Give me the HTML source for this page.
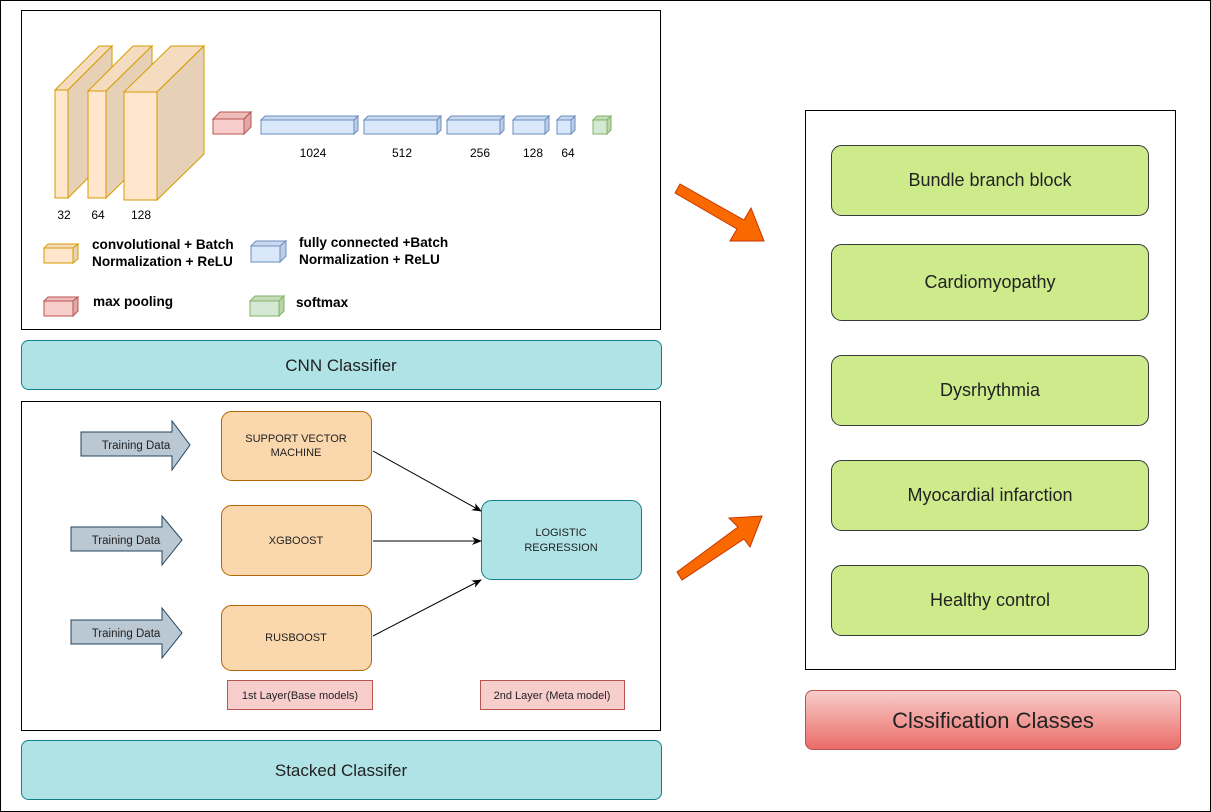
<!DOCTYPE html>
<html><head><meta charset="utf-8"><style>
body{margin:0;background:#fff}
svg{display:block;font-family:"Liberation Sans",Arial,sans-serif}
</style></head><body>
<svg width="1211" height="812" viewBox="0 0 1211 812" xmlns="http://www.w3.org/2000/svg">
<defs>
<linearGradient id="rg" x1="0" y1="0" x2="0" y2="1"><stop offset="0" stop-color="#f8cecc"/><stop offset="1" stop-color="#ea6b66"/></linearGradient>
<marker id="ah" markerWidth="10" markerHeight="10" refX="9" refY="5" orient="auto" markerUnits="userSpaceOnUse"><path d="M0,1 L10,5 L0,9 L3,5 z" fill="#000"/></marker>
</defs>
<rect x="0.5" y="0.5" width="1210" height="811" fill="#fff" stroke="#000"/>
<rect x="21.5" y="10.5" width="639" height="319" fill="#fff" stroke="#000"/>
<g stroke="#d79b00" stroke-width="1">
<polygon points="55,90 99,46 112,46 68,90" fill="#f4dcc0"/><polygon points="68,90 112,46 112,154 68,198" fill="#e6d0b6"/><rect x="55" y="90" width="13" height="108" fill="#ffe6cc"/>
<polygon points="88,91 133,46 152,46 106,91" fill="#f4dcc0"/><polygon points="106,91 152,46 152,153 106,198" fill="#e6d0b6"/><rect x="88" y="91" width="18" height="107" fill="#ffe6cc"/>
<polygon points="124,92 171,46 204,46 157,92" fill="#f4dcc0"/><polygon points="157,92 204,46 204,154 157,200" fill="#e6d0b6"/><rect x="124" y="92" width="33" height="108" fill="#ffe6cc"/>
</g>
<g font-size="12" fill="#000" text-anchor="middle">
<text x="64" y="219">32</text><text x="98" y="219">64</text><text x="141" y="219">128</text>
<text x="313" y="157">1024</text><text x="402" y="157">512</text><text x="480" y="157">256</text><text x="533" y="157">128</text><text x="568" y="157">64</text>
</g>
<g stroke="#b85450"><polygon points="213,119 220,112 251,112 244,119" fill="#eebcba"/><polygon points="244,119 251,112 251,127 244,134" fill="#e0a8a6"/><rect x="213" y="119" width="31" height="15" fill="#f8cecc"/></g>
<g stroke="#6c8ebf">
<polygon points="261,120 265,116 358,116 354,120" fill="#c8d8ee"/><polygon points="354,120 358,116 358,130 354,134" fill="#bccde6"/><rect x="261" y="120" width="93" height="14" fill="#dae8fc"/>
<polygon points="364,120 368,116 441,116 437,120" fill="#c8d8ee"/><polygon points="437,120 441,116 441,130 437,134" fill="#bccde6"/><rect x="364" y="120" width="73" height="14" fill="#dae8fc"/>
<polygon points="447,120 451,116 504,116 500,120" fill="#c8d8ee"/><polygon points="500,120 504,116 504,130 500,134" fill="#bccde6"/><rect x="447" y="120" width="53" height="14" fill="#dae8fc"/>
<polygon points="513,120 517,116 549,116 545,120" fill="#c8d8ee"/><polygon points="545,120 549,116 549,130 545,134" fill="#bccde6"/><rect x="513" y="120" width="32" height="14" fill="#dae8fc"/>
<polygon points="557,120 561,116 575,116 571,120" fill="#c8d8ee"/><polygon points="571,120 575,116 575,130 571,134" fill="#bccde6"/><rect x="557" y="120" width="14" height="14" fill="#dae8fc"/>
</g>
<g stroke="#82b366"><polygon points="593,120 597,116 611,116 607,120" fill="#c4dcb8"/><polygon points="607,120 611,116 611,130 607,134" fill="#b8d4aa"/><rect x="593" y="120" width="14" height="14" fill="#d5e8d4"/></g>
<g stroke="#d79b00"><polygon points="44,248 48,244 78,244 73,248" fill="#f4dcc0"/><polygon points="73,248 78,244 78,259 73,263" fill="#e6d0b6"/><rect x="44" y="248" width="29" height="15" fill="#ffe6cc"/></g>
<g stroke="#6c8ebf"><polygon points="251,246 256,241 286,241 280,246" fill="#c8d8ee"/><polygon points="280,246 286,241 286,256 280,262" fill="#bccde6"/><rect x="251" y="246" width="29" height="16" fill="#dae8fc"/></g>
<g stroke="#b85450"><polygon points="44,301 48,297 78,297 73,301" fill="#eebcba"/><polygon points="73,301 78,297 78,311 73,316" fill="#e0a8a6"/><rect x="44" y="301" width="29" height="15" fill="#f8cecc"/></g>
<g stroke="#82b366"><polygon points="250,301 255,296 284,296 279,301" fill="#c4dcb8"/><polygon points="279,301 284,296 284,311 279,316" fill="#b8d4aa"/><rect x="250" y="301" width="29" height="15" fill="#d5e8d4"/></g>
<g font-size="13.6" font-weight="bold" fill="#000">
<text x="92" y="249">convolutional + Batch</text><text x="92" y="266">Normalization + ReLU</text>
<text x="299" y="247">fully connected +Batch</text><text x="299" y="264">Normalization + ReLU</text>
<text x="93" y="306">max pooling</text><text x="296" y="307">softmax</text>
</g>
<rect x="21.5" y="340.5" width="640" height="49" rx="7" fill="#b0e3e6" stroke="#0e8088"/>
<text x="341" y="371" font-size="17" text-anchor="middle" fill="#222">CNN Classifier</text>
<rect x="21.5" y="401.5" width="639" height="329" fill="#fff" stroke="#000"/>
<g fill="#bac8d3" stroke="#23445d">
<polygon points="81,432 172,432 172,421 190,445 172,470 172,456 81,456"/>
<polygon points="71,527 162,527 162,516 182,540 162,565 162,551 71,551"/>
<polygon points="71,620 162,620 162,608 182,633 162,658 162,644 71,644"/>
</g>
<g font-size="11.5" fill="#222" text-anchor="middle">
<text x="136" y="449">Training Data</text><text x="126" y="544">Training Data</text><text x="126" y="637">Training Data</text>
</g>
<g fill="#fad7ac" stroke="#b46504">
<rect x="221.5" y="411.5" width="150" height="69" rx="10"/>
<rect x="221.5" y="505.5" width="150" height="70" rx="10"/>
<rect x="221.5" y="605.5" width="150" height="65" rx="10"/>
</g>
<rect x="481.5" y="500.5" width="160" height="79" rx="10" fill="#b0e3e6" stroke="#0e8088"/>
<g font-size="11" fill="#222" text-anchor="middle">
<text x="296" y="442">SUPPORT VECTOR</text><text x="296" y="456">MACHINE</text>
<text x="296" y="544">XGBOOST</text><text x="296" y="641">RUSBOOST</text>
<text x="561" y="536">LOGISTIC</text><text x="561" y="551">REGRESSION</text>
</g>
<g stroke="#000" fill="none">
<line x1="373" y1="451" x2="481" y2="511" marker-end="url(#ah)"/>
<line x1="373" y1="541" x2="481" y2="541" marker-end="url(#ah)"/>
<line x1="373" y1="636" x2="481" y2="580" marker-end="url(#ah)"/>
</g>
<rect x="227.5" y="680.5" width="145" height="29" fill="#f8cecc" stroke="#b85450"/>
<rect x="480.5" y="680.5" width="144" height="29" fill="#f8cecc" stroke="#b85450"/>
<g font-size="11" fill="#222" text-anchor="middle"><text x="300" y="699">1st Layer(Base models)</text><text x="552" y="699">2nd Layer (Meta model)</text></g>
<rect x="21.5" y="740.5" width="640" height="59" rx="7" fill="#b0e3e6" stroke="#0e8088"/>
<text x="341" y="776" font-size="17" text-anchor="middle" fill="#222">Stacked Classifer</text>
<g fill="#fa6800" stroke="#c73500" stroke-width="1">
<polygon points="675,193 680,184 744,220 751,208 764,241 730,241 737,229"/>
<polygon points="677,572 682,580 744,539 750,547 762,516 729,518 738,527"/>
</g>
<rect x="805.5" y="110.5" width="370" height="559" fill="#fff" stroke="#000"/>
<g fill="#cdeb8b" stroke="#36393d">
<rect x="831.5" y="145.5" width="317" height="70" rx="10"/>
<rect x="831.5" y="244.5" width="317" height="76" rx="10"/>
<rect x="831.5" y="355.5" width="317" height="70" rx="10"/>
<rect x="831.5" y="460.5" width="317" height="70" rx="10"/>
<rect x="831.5" y="565.5" width="317" height="70" rx="10"/>
</g>
<g font-size="18" fill="#222" text-anchor="middle">
<text x="990" y="186">Bundle branch block</text>
<text x="990" y="288">Cardiomyopathy</text>
<text x="990" y="396">Dysrhythmia</text>
<text x="990" y="501">Myocardial infarction</text>
<text x="990" y="606">Healthy control</text>
</g>
<rect x="805.5" y="690.5" width="375" height="59" rx="7" fill="url(#rg)" stroke="#b85450"/>
<text x="993" y="728" font-size="22" text-anchor="middle" fill="#222">Clssification Classes</text>
</svg>
</body></html>
